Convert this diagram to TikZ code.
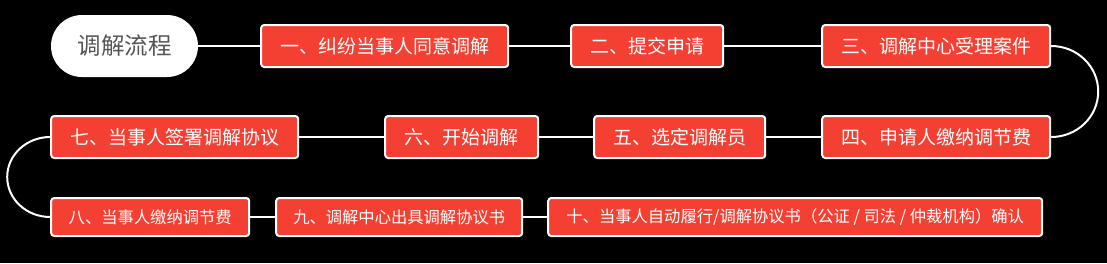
\documentclass[tikz,border=0pt]{standalone}
\usepackage{fontspec}
\usepackage{xcolor}
\usepackage{tikz}
\usetikzlibrary{positioning}
\newfontfamily\cjk{Noto Sans CJK SC}
\definecolor{stepred}{RGB}{244,64,50}
\definecolor{rootgray}{RGB}{85,85,85}

\begin{document}
\begin{tikzpicture}[
  x=1pt, y=1pt,
  box/.style={rectangle, draw=white, line width=2pt, fill=stepred, rounded corners=3pt,
              minimum height=42pt, inner sep=0pt, text=white, font=\cjk\fontsize{19}{21}\selectfont},
  smallbox/.style={box, minimum height=38pt, font=\cjk\fontsize{16.3}{18}\selectfont},
  rootbox/.style={rectangle, fill=white, rounded corners=31pt, minimum width=147pt,
                  minimum height=62pt, text=rootgray, font=\cjk\fontsize{23.5}{25}\selectfont},
  link/.style={draw=white, line width=2pt}
]
\fill[black] (0,0) rectangle (1107,-263);

\node[rootbox] (root) at (124.5,-46) {调解流程};

% 第一行
\node[box, minimum width=247pt, right=62pt of root] (s1) {一、纠纷当事人同意调解};
\node[box, minimum width=152pt, right=61pt of s1] (s2) {二、提交申请};
\node[box, minimum width=228pt, right=97pt of s2] (s3) {三、调解中心受理案件};

% 第二行, 从右往左
\node[box, minimum width=228pt, below=47pt of s3] (s4) {四、申请人缴纳调节费};
\node[box, minimum width=171pt, left=55pt of s4] (s5) {五、选定调解员};
\node[box, minimum width=153pt, left=54pt of s5] (s6) {六、开始调解};
\node[box, minimum width=247pt, left=85pt of s6] (s7) {七、当事人签署调解协议};

% 第三行
\node[smallbox, minimum width=198pt, below=38pt of s7.south west, anchor=north west] (s8) {八、当事人缴纳调节费};
\node[smallbox, minimum width=246pt, right=25pt of s8] (s9) {九、调解中心出具调解协议书};
\node[smallbox, minimum width=494pt, right=24pt of s9] (s10) {十、当事人自动履行/调解协议书（公证 / 司法 / 仲裁机构）确认};

\draw[link] (root) -- (s1);
\draw[link] (s1) -- (s2);
\draw[link] (s2) -- (s3);
\draw[link] (s3.east) arc[start angle=90, end angle=-90, x radius=47, y radius=45.5];
\draw[link] (s4) -- (s5);
\draw[link] (s5) -- (s6);
\draw[link] (s6) -- (s7);
\draw[link] (s7.west) arc[start angle=90, end angle=270, x radius=43, y radius=40];
\draw[link] (s8) -- (s9);
\draw[link] (s9) -- (s10);
\end{tikzpicture}
\end{document}
